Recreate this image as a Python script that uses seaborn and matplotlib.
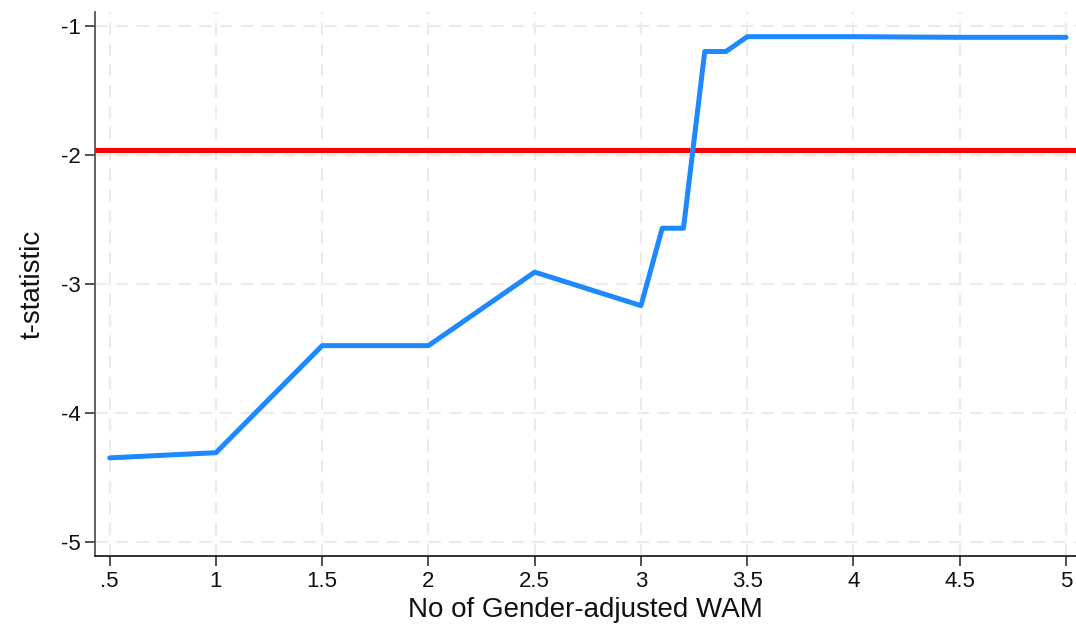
import matplotlib
matplotlib.use("Agg")
import matplotlib.pyplot as plt
import seaborn as sns
import pandas as pd

# Threshold on number of gender-adjusted WAM vs resulting t-statistic
wam_cutoff = [0.5, 1.0, 1.5, 2.0, 2.5, 3.0, 3.1, 3.2, 3.3, 3.4, 3.5, 4.0, 4.5, 5.0]
t_stat = [-4.35, -4.31, -3.48, -3.48, -2.91, -3.17, -2.57, -2.57, -1.20, -1.20,
          -1.085, -1.085, -1.09, -1.09]
critical_value = -1.96

x_ticks = [0.5, 1, 1.5, 2, 2.5, 3, 3.5, 4, 4.5, 5]
x_tick_labels = [".5", "1", "1.5", "2", "2.5", "3", "3.5", "4", "4.5", "5"]
y_ticks = [-5, -4, -3, -2, -1]
y_tick_labels = ["-5", "-4", "-3", "-2", "-1"]

sns.set_style("ticks")
plt.rcParams["font.family"] = ["Liberation Sans", "DejaVu Sans"]

df = pd.DataFrame({"cutoff": wam_cutoff, "t": t_stat})

fig = plt.figure(figsize=(10.76, 6.27), dpi=100)
ax = fig.add_axes([0.0883, 0.1132, 0.9117, 0.8676])

grid_kw = dict(color="#ebebeb", linewidth=1.5, dashes=(6, 4), zorder=0)
for xv in x_ticks:
    ax.axvline(xv, **grid_kw)
for yv in y_ticks:
    ax.axhline(yv, **grid_kw)

ax.axhline(critical_value, color="#ff0000", linewidth=3.6, zorder=2)
sns.lineplot(data=df, x="cutoff", y="t", ax=ax, color="#1e88ff",
             linewidth=3.6, zorder=3, estimator=None, sort=False)

ax.set_xlim(0.431, 5.047)
ax.set_ylim(-5.111, -0.894)
ax.set_xticks(x_ticks)
ax.set_xticklabels(x_tick_labels)
ax.set_yticks(y_ticks)
ax.set_yticklabels(y_tick_labels)
ax.tick_params(axis="both", labelsize=16, length=7, width=1.2,
               color="#333333", labelcolor="#111111", pad=3.5)

for side in ["top", "right"]:
    ax.spines[side].set_visible(False)
ax.spines["left"].set_color("#555555")
ax.spines["bottom"].set_color("#222222")
ax.spines["left"].set_linewidth(1.3)
ax.spines["bottom"].set_linewidth(1.3)

ax.set_xlabel("No of Gender-adjusted WAM", fontsize=20, color="#111111", labelpad=4)
ax.set_ylabel("t-statistic", fontsize=20, color="#111111", labelpad=11)

fig.savefig("out.png", dpi=100)
